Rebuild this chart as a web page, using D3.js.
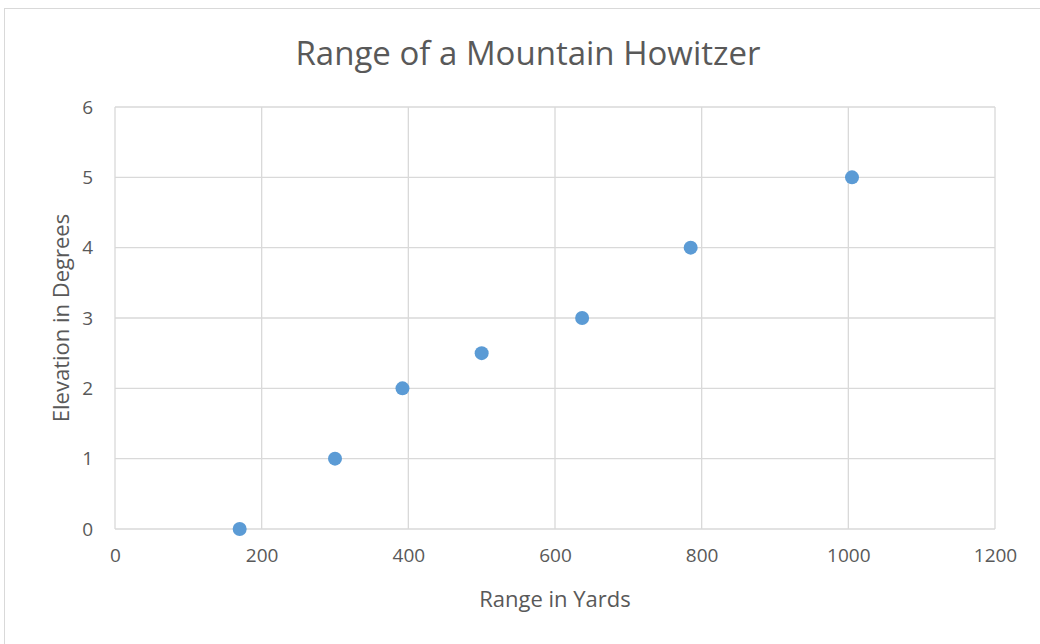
<!DOCTYPE html>
<html>
<head>
<meta charset="utf-8">
<script src="https://cdn.jsdelivr.net/npm/d3@7"></script>
<style>
  body { margin: 0; background: #fff; }
  text { font-family: "Open Sans", sans-serif; fill: #595959; }
</style>
</head>
<body>
<div id="chart"></div>
<script>
// range in yards vs elevation in degrees
const rangeYards = [170, 300, 392, 500, 637, 785, 1005];
const elevationDeg = [0, 1, 2, 2.5, 3, 4, 5];
const xTicks = [0, 200, 400, 600, 800, 1000, 1200];
const yTicks = [0, 1, 2, 3, 4, 5, 6];

const width = 1040, height = 644;
const plotLeft = 115, plotRight = 995, plotTop = 107, plotBottom = 529;

const svg = d3.select("#chart").append("svg")
    .attr("width", width)
    .attr("height", height);

svg.append("rect")
    .attr("x", 4.5).attr("y", 8.5)
    .attr("width", 1040).attr("height", 640)
    .attr("fill", "#fff")
    .attr("stroke", "#d9d9d9");

const x = d3.scaleLinear().domain([0, 1200]).range([plotLeft, plotRight]);
const y = d3.scaleLinear().domain([0, 6]).range([plotBottom, plotTop]);

// gridlines
svg.append("g").selectAll("line")
    .data(yTicks).enter().append("line")
    .attr("x1", plotLeft).attr("x2", plotRight)
    .attr("y1", d => y(d)).attr("y2", d => y(d))
    .attr("stroke", "#d9d9d9").attr("stroke-width", 1.3);

svg.append("g").selectAll("line")
    .data(xTicks).enter().append("line")
    .attr("y1", plotTop).attr("y2", plotBottom)
    .attr("x1", d => x(d)).attr("x2", d => x(d))
    .attr("stroke", "#d9d9d9").attr("stroke-width", 1.3);

// axes (labels only)
const xAxis = svg.append("g")
    .attr("transform", `translate(0,${plotBottom})`)
    .call(d3.axisBottom(x).tickValues(xTicks).tickFormat(d3.format("d")).tickSize(0).tickPadding(20));
const yAxis = svg.append("g")
    .attr("transform", `translate(${plotLeft},0)`)
    .call(d3.axisLeft(y).tickValues(yTicks).tickFormat(d3.format("d")).tickSize(0).tickPadding(22));

[xAxis, yAxis].forEach(a => {
    a.select(".domain").remove();
    a.selectAll("text")
        .style("font-family", "'Open Sans', sans-serif")
        .style("font-size", "19px")
        .attr("fill", "#595959");
});

svg.append("text")
    .attr("x", 528)
    .attr("y", 65)
    .attr("text-anchor", "middle")
    .style("font-size", "33px")
    .text("Range of a Mountain Howitzer");

svg.append("text")
    .attr("x", (plotLeft + plotRight) / 2)
    .attr("y", 607)
    .attr("text-anchor", "middle")
    .style("font-size", "22px")
    .text("Range in Yards");

svg.append("text")
    .attr("transform", `translate(69,${(plotTop + plotBottom) / 2}) rotate(-90)`)
    .attr("text-anchor", "middle")
    .style("font-size", "22px")
    .text("Elevation in Degrees");

svg.append("g").selectAll("circle")
    .data(rangeYards.map((r, i) => ({ r, e: elevationDeg[i] })))
    .enter().append("circle")
    .attr("cx", d => x(d.r))
    .attr("cy", d => y(d.e))
    .attr("r", 7)
    .attr("fill", "#5b9bd5");
</script>
</body>
</html>
